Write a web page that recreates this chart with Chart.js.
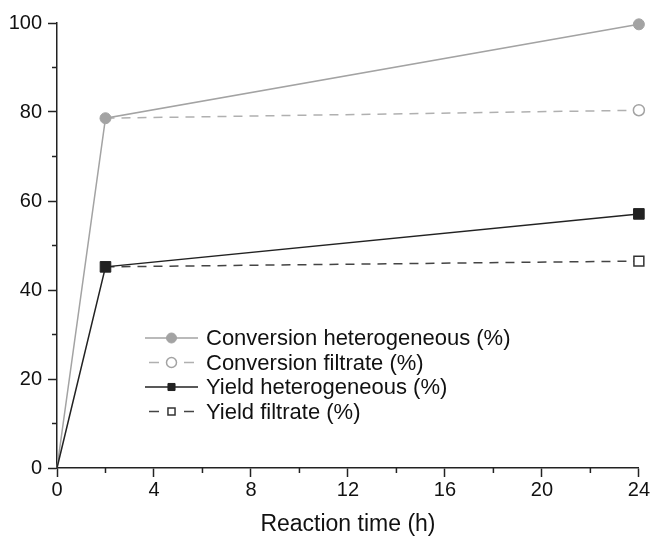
<!DOCTYPE html>
<html>
<head>
<meta charset="utf-8">
<script src="https://cdn.jsdelivr.net/npm/chart.js@4.4.0/dist/chart.umd.min.js"></script>
<style>
  html, body { margin: 0; padding: 0; background: #fff; }
  #wrap { width: 651px; height: 538px; }
</style>
</head>
<body>
<div id="wrap"><canvas id="chart"></canvas></div>
<script>
// reaction time (h)
const times = [0, 2, 24];
const filtrateTimes = [2, 24];

const convHetero = [0, 78.6, 99.7];
const convFiltrate = [78.6, 80.4];
const yieldHetero = [0, 45.2, 57.1];
const yieldFiltrate = [45.2, 46.5];

const labels = [
    'Conversion heterogeneous (%)',
    'Conversion filtrate (%)',
    'Yield heterogeneous (%)',
    'Yield filtrate (%)'
];

const xTicks = [0, 4, 8, 12, 16, 20, 24];
const yTicks = [0, 20, 40, 60, 80, 100];

const FONT = '"Liberation Sans", Arial, Helvetica, sans-serif';
const toPoints = (xs, ys) => xs.map((x, i) => ({ x: x, y: ys[i] }));

// minor ticks half way between the labelled ones
const minorTicks = {
    id: 'minorTicks',
    afterDraw(chart) {
        const ctx = chart.ctx;
        const xs = chart.scales.x, ys = chart.scales.y;
        ctx.save();
        ctx.strokeStyle = '#222';
        ctx.lineWidth = 1.5;
        ctx.beginPath();
        for (let i = 0; i < xTicks.length - 1; i++) {
            const px = xs.getPixelForValue((xTicks[i] + xTicks[i + 1]) / 2);
            ctx.moveTo(px, ys.bottom);
            ctx.lineTo(px, ys.bottom + 5);
        }
        for (let i = 0; i < yTicks.length - 1; i++) {
            const py = ys.getPixelForValue((yTicks[i] + yTicks[i + 1]) / 2);
            ctx.moveTo(xs.left, py);
            ctx.lineTo(xs.left - 5, py);
        }
        ctx.stroke();
        ctx.restore();
    }
};

// legend inside the plot, lower left
const insideLegend = {
    id: 'insideLegend',
    afterDraw(chart) {
        const ctx = chart.ctx;
        const area = chart.chartArea;
        const x0 = area.left + 88, x1 = area.left + 141, mx = (x0 + x1) / 2;
        ctx.save();
        ctx.font = '22px ' + FONT;
        ctx.textBaseline = 'middle';
        chart.data.datasets.forEach((ds, i) => {
            const y = area.bottom - 130 + i * 24.5;
            ctx.strokeStyle = ds.borderColor;
            ctx.lineWidth = ds.borderWidth;
            ctx.setLineDash([]);
            ctx.beginPath();
            if (ds.borderDash) {
                ctx.moveTo(x0 + 4, y); ctx.lineTo(x0 + 14, y);
                ctx.moveTo(x1 - 14, y); ctx.lineTo(x1 - 4, y);
            } else {
                ctx.moveTo(x0, y); ctx.lineTo(x1, y);
            }
            ctx.stroke();
            ctx.fillStyle = ds.pointBackgroundColor;
            ctx.strokeStyle = ds.pointBorderColor;
            ctx.lineWidth = ds.pointBorderWidth;
            Chart.helpers.drawPoint(ctx, {
                pointStyle: ds.pointStyle,
                radius: 5,
                borderWidth: ds.pointBorderWidth,
                rotation: 0
            }, mx, y);
            ctx.fillStyle = '#111';
            ctx.fillText(ds.label, x1 + 8, y + 1);
        });
        ctx.restore();
    }
};

new Chart(document.getElementById('chart'), {
    type: 'line',
    data: {
        datasets: [
            {
                label: labels[0],
                data: toPoints(times, convHetero),
                borderColor: '#a3a3a3',
                borderWidth: 1.5,
                pointStyle: 'circle',
                pointRadius: [0, 5.5, 5.5],
                pointBackgroundColor: '#a3a3a3',
                pointBorderColor: '#a3a3a3',
                pointBorderWidth: 1,
                clip: false,
                order: 2
            },
            {
                label: labels[1],
                data: toPoints(filtrateTimes, convFiltrate),
                borderColor: '#b0b0b0',
                borderWidth: 1.5,
                borderDash: [9, 7],
                pointStyle: 'circle',
                pointRadius: [0, 5.5],
                pointBackgroundColor: '#ffffff',
                pointBorderColor: '#a3a3a3',
                pointBorderWidth: 1.5,
                clip: false,
                order: 3
            },
            {
                label: labels[2],
                data: toPoints(times, yieldHetero),
                borderColor: '#222222',
                borderWidth: 1.5,
                pointStyle: 'rect',
                pointRadius: [0, 7.5, 7.5],
                pointBackgroundColor: '#222222',
                pointBorderColor: '#222222',
                pointBorderWidth: 1,
                clip: false,
                order: 0
            },
            {
                label: labels[3],
                data: toPoints(filtrateTimes, yieldFiltrate),
                borderColor: '#444444',
                borderWidth: 1.5,
                borderDash: [9, 7],
                pointStyle: 'rect',
                pointRadius: [0, 7],
                pointBackgroundColor: '#ffffff',
                pointBorderColor: '#333333',
                pointBorderWidth: 1.5,
                clip: false,
                order: 1
            }
        ]
    },
    options: {
        responsive: true,
        maintainAspectRatio: false,
        animation: false,
        layout: { padding: { left: 0, top: 23, right: 12, bottom: 0 } },
        plugins: {
            legend: { display: false },
            tooltip: { enabled: false }
        },
        scales: {
            x: {
                type: 'linear',
                min: 0,
                max: 24,
                afterFit: (s) => { s.height = 70; },
                ticks: { stepSize: 4, color: '#111', font: { family: FONT, size: 20 }, padding: 1, maxRotation: 0 },
                grid: { drawOnChartArea: false, drawTicks: true, tickLength: 9, tickColor: '#222', tickWidth: 1.5 },
                border: { color: '#222', width: 1.5 },
                title: { display: true, text: 'Reaction time (h)', color: '#111', font: { family: FONT, size: 23 }, padding: { top: 0, bottom: 0 } }
            },
            y: {
                min: 0,
                max: 100,
                afterFit: (s) => { s.width = 57; },
                ticks: { stepSize: 20, color: '#111', font: { family: FONT, size: 20 }, padding: 6 },
                grid: { drawOnChartArea: false, drawTicks: true, tickLength: 9, tickColor: '#222', tickWidth: 1.5 },
                border: { color: '#222', width: 1.5 }
            }
        }
    },
    plugins: [minorTicks, insideLegend]
});
</script>
</body>
</html>
